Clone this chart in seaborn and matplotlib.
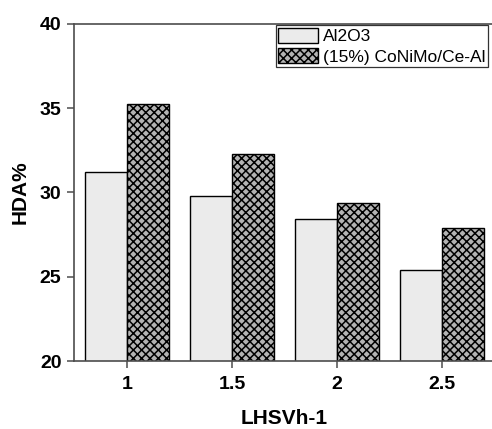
import matplotlib
matplotlib.use("Agg")
import matplotlib.pyplot as plt
import matplotlib.patches as mpatches
import seaborn as sns
import pandas as pd

# HDA conversion at each liquid hourly space velocity
lhsv = ["1", "1.5", "2", "2.5"]
al2o3 = [31.2, 29.8, 28.4, 25.4]
conimo_ce_al = [35.25, 32.3, 29.35, 27.9]
series_names = ["Al2O3", "(15%) CoNiMo/Ce-Al"]

df = pd.DataFrame({
    "LHSV": lhsv * 2,
    "HDA": al2o3 + conimo_ce_al,
    "Catalyst": [series_names[0]] * len(lhsv) + [series_names[1]] * len(lhsv),
})

sns.set_style("white")
plt.rcParams["font.family"] = ["Liberation Sans", "DejaVu Sans"]
plt.rcParams["hatch.linewidth"] = 1.1
plt.rcParams["text.color"] = "black"
plt.rcParams["axes.labelcolor"] = "black"
plt.rcParams["xtick.color"] = "black"
plt.rcParams["ytick.color"] = "black"

fig = plt.figure(figsize=(4.92, 4.29), dpi=100)
ax = fig.add_axes([74 / 492, 68 / 429, 421 / 492, 337 / 429])

fills = ["#ebebeb", "#b3b3b3"]
hatches = [None, "xxxx"]

sns.barplot(data=df, x="LHSV", y="HDA", hue="Catalyst", order=lhsv,
            hue_order=series_names, palette=fills, width=0.8,
            edgecolor="black", linewidth=1.0, saturation=1, legend=False, ax=ax)

for cont, h in zip(ax.containers, hatches):
    for bar in cont:
        bar.set_hatch(h)
        bar.set_edgecolor("black")

ax.set_ylim(20, 40)
ax.set_xlim(-0.505, 3.505)
ax.set_yticks([20, 25, 30, 35, 40])

spine_col = "#4d4d4d"
for side in ["left", "bottom", "top"]:
    ax.spines[side].set_visible(True)
    ax.spines[side].set_color(spine_col)
    ax.spines[side].set_linewidth(1.2)
ax.spines["right"].set_visible(False)

ax.tick_params(axis="both", direction="out", length=5, width=1.1,
               color=spine_col, labelcolor="black", labelsize=14, pad=4,
               left=True, bottom=True)
ax.tick_params(axis="x", pad=6)
for lab in ax.get_xticklabels() + ax.get_yticklabels():
    lab.set_fontweight("bold")

ax.set_xlabel("LHSVh-1", fontsize=15, fontweight="bold", labelpad=11)
ax.set_ylabel("HDA%", fontsize=15, fontweight="bold", labelpad=7)

handles = [mpatches.Patch(facecolor=fills[i], edgecolor="black", hatch=hatches[i],
                          linewidth=1.0, label=series_names[i]) for i in range(2)]
leg = ax.legend(handles=handles, loc="upper right", bbox_to_anchor=(0.983, 0.997),
                borderaxespad=0, fontsize=12.5, frameon=True, fancybox=False,
                handlelength=2.3, handleheight=1.0, handletextpad=0.25,
                labelspacing=0.2, borderpad=0.15)
leg.get_frame().set_edgecolor("black")
leg.get_frame().set_linewidth(0.9)

fig.savefig("out.png", dpi=100)
